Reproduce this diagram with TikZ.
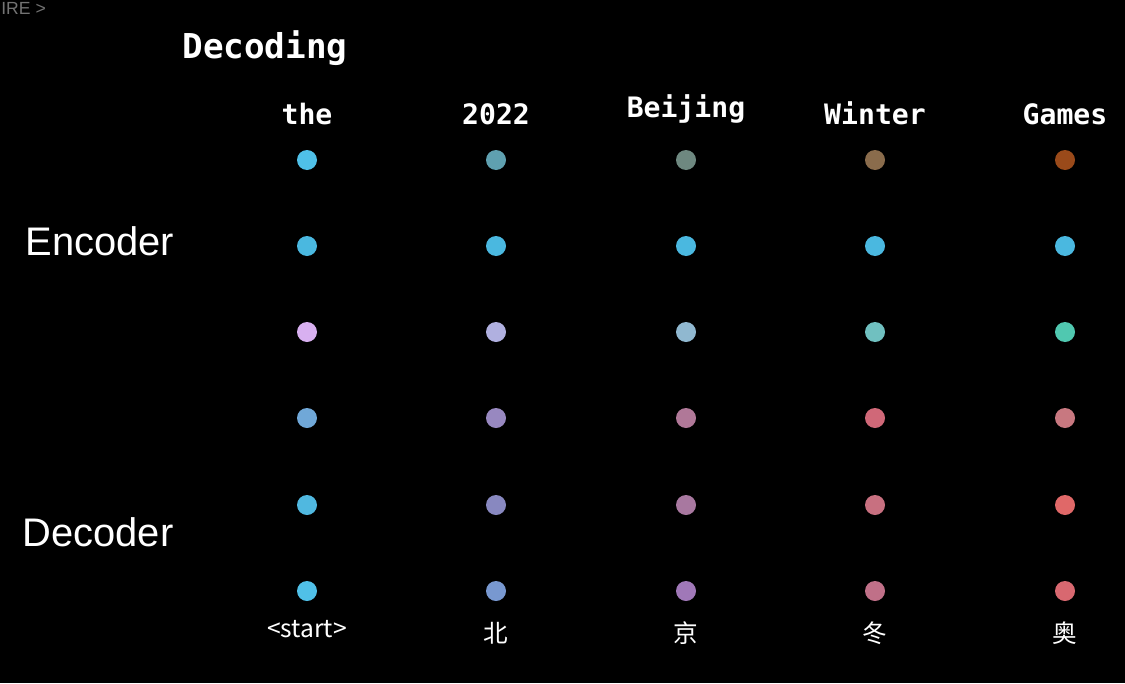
\documentclass[tikz,border=0pt]{standalone}
\usepackage{fontspec}
\setmainfont{Liberation Sans}
\newfontfamily\monofont{DejaVu Sans Mono}
\newfontfamily\cjk{Noto Sans CJK SC}
\usetikzlibrary{positioning}

% dot colours, row r / column c
\definecolor{d11}{HTML}{4FC0E8}\definecolor{d12}{HTML}{5FA0B0}\definecolor{d13}{HTML}{6E8880}\definecolor{d14}{HTML}{8A6C4C}\definecolor{d15}{HTML}{9A4A1A}
\definecolor{d21}{HTML}{4AB8E0}\definecolor{d22}{HTML}{4AB8E0}\definecolor{d23}{HTML}{4AB8E0}\definecolor{d24}{HTML}{4AB8E0}\definecolor{d25}{HTML}{4AB8E0}
\definecolor{d31}{HTML}{D8B0F0}\definecolor{d32}{HTML}{B0B0E0}\definecolor{d33}{HTML}{90B8D0}\definecolor{d34}{HTML}{70C0C0}\definecolor{d35}{HTML}{50C8B0}
\definecolor{d41}{HTML}{70A8D8}\definecolor{d42}{HTML}{9888C0}\definecolor{d43}{HTML}{B07898}\definecolor{d44}{HTML}{D06878}\definecolor{d45}{HTML}{C87880}
\definecolor{d51}{HTML}{50B8E0}\definecolor{d52}{HTML}{8888C0}\definecolor{d53}{HTML}{A878A0}\definecolor{d54}{HTML}{C87080}\definecolor{d55}{HTML}{E06868}
\definecolor{d61}{HTML}{50C0E8}\definecolor{d62}{HTML}{7898D0}\definecolor{d63}{HTML}{A078B8}\definecolor{d64}{HTML}{C07088}\definecolor{d65}{HTML}{D86870}

\begin{document}
\begin{tikzpicture}[
  x=0.02cm, y=-0.02cm,
  dot/.style={circle,inner sep=0pt,minimum size=0.4cm},
  word/.style={text=white,anchor=base,font=\monofont\bfseries\fontsize{16}{19}\selectfont},
  side/.style={text=white,anchor=base,font=\fontsize{22.7}{27}\selectfont},
  tok/.style={text=white,font=\cjk\fontsize{14}{17}\selectfont},
]
\fill[black] (0,0) rectangle (1125,683);
\useasboundingbox (0,0) rectangle (1125,683);

\node[text=black!55,anchor=west,inner sep=0pt,font=\fontsize{10}{12}\selectfont] (crumb) at (1,8) {IRE >};

\node[word,font=\monofont\bfseries\fontsize{19.5}{23}\selectfont] (title) at (265,58) {Decoding};
\node[side] (enc) at (100,255) {Encoder};
\node[side] (dec) at (98,546) {Decoder};

%% output words
\node[word] (w1) at (307,124) {the};
\node[word] (w2) at (496,124) {2022};
\node[word] (w3) at (686,117) {Beijing};
\node[word] (w4) at (875,124) {Winter};
\node[word] (w5) at (1065,124) {Games};

%% grid of hidden states
\foreach \c/\x in {1/307,2/496,3/686,4/875,5/1065}
  \foreach \r/\y in {1/160,2/246,3/332,4/418,5/505,6/591}
    \node[dot,fill=d\r\c] (d-\r-\c) at (\x,\y) {};

%% decoder inputs
\node[tok] (t1) at (307,629) {<start>};
\node[tok] (t2) at (496,633) {北};
\node[tok] (t3) at (686,633) {京};
\node[tok] (t4) at (875,633) {冬};
\node[tok] (t5) at (1065,633) {奥};
\end{tikzpicture}
\end{document}
